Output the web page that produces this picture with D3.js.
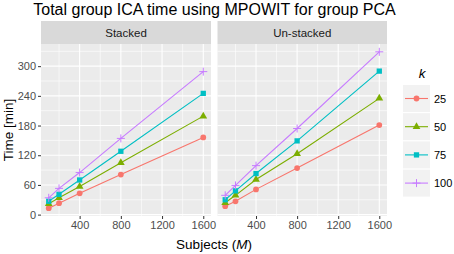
<!DOCTYPE html>
<html>
<head>
<meta charset="utf-8">
<script src="https://cdn.jsdelivr.net/npm/d3@7"></script>
<style>
  body { margin: 0; background: #fff; }
  text { font-family: "Liberation Sans", Arial, sans-serif; }
</style>
</head>
<body>
<div id="chart"></div>
<script>
// data
let subjects = [100, 200, 400, 800, 1600];
let panels = ["Stacked", "Un-stacked"];
let kLevels = ["25", "50", "75", "100"];
let stacked25 = [13, 23, 43, 81, 156];
let stacked50 = [22, 34, 57, 105, 199];
let stacked75 = [27, 41, 70, 128, 245];
let stacked100 = [34, 53, 85, 154, 289];
let unstacked25 = [17, 27, 51, 94, 181];
let unstacked50 = [24, 39, 71, 123, 235];
let unstacked75 = [30, 48, 83, 149, 290];
let unstacked100 = [39, 59, 99, 174, 329];
let xTicks = [400, 800, 1200, 1600];
let yTicks = [0, 60, 120, 180, 240, 300];

let colors = ["#F8766D", "#7CAE00", "#00BFC4", "#C77CFF"];

let series = {
  "Stacked": [stacked25, stacked50, stacked75, stacked100],
  "Un-stacked": [unstacked25, unstacked50, unstacked75, unstacked100]
};

let W = 454, H = 254;
let svg = d3.select("#chart").append("svg")
  .attr("width", W).attr("height", H);

// layout
let panelTop = 44, panelBottom = 216, stripTop = 21;
let panelX = [[41, 211], [217.5, 387]];

// scales (ggplot-like 5% expansion)
let allVals = [].concat(...Object.values(series).flat());
let yMin = d3.min(allVals), yMax = d3.max(allVals);
let yPad = (yMax - yMin) * 0.05;
let y = d3.scaleLinear()
  .domain([yMin - yPad, yMax + yPad])
  .range([panelBottom, panelTop]);

let xPad = (d3.max(subjects) - d3.min(subjects)) * 0.05;

// title
svg.append("text")
  .attr("x", 214.5).attr("y", 15)
  .attr("text-anchor", "middle")
  .style("font-size", "16px")
  .style("fill", "#000")
  .text("Total group ICA time using MPOWIT for group PCA");

let symbols = [d3.symbolCircle, d3.symbolTriangle, d3.symbolSquare, null];

function drawMarker(g, shapeIdx, cx, cy, color) {
  if (shapeIdx === 3) {
    g.append("path")
      .attr("d", `M${cx - 4},${cy}H${cx + 4}M${cx},${cy - 4}V${cy + 4}`)
      .attr("stroke", color).attr("stroke-width", 1).attr("fill", "none");
  } else {
    let size = shapeIdx === 0 ? 26 : shapeIdx === 1 ? 26 : 28;
    g.append("path")
      .attr("d", d3.symbol().type(symbols[shapeIdx]).size(size)())
      .attr("transform", `translate(${cx},${cy})`)
      .attr("fill", color);
  }
}

panels.forEach((name, p) => {
  let [x0, x1] = panelX[p];
  let x = d3.scaleLinear()
    .domain([d3.min(subjects) - xPad, d3.max(subjects) + xPad])
    .range([x0, x1]);

  let g = svg.append("g");

  // strip
  g.append("rect")
    .attr("x", x0).attr("y", stripTop)
    .attr("width", x1 - x0).attr("height", panelTop - stripTop)
    .attr("fill", "#d9d9d9");
  g.append("text")
    .attr("x", (x0 + x1) / 2).attr("y", stripTop + 15.5)
    .attr("text-anchor", "middle")
    .style("font-size", "11.5px")
    .style("fill", "#1a1a1a")
    .text(name);

  // panel background
  g.append("rect")
    .attr("x", x0).attr("y", panelTop)
    .attr("width", x1 - x0).attr("height", panelBottom - panelTop)
    .attr("fill", "#ebebeb");

  // minor grid
  let xMinor = [200, 600, 1000, 1400];
  let yMinor = [30, 90, 150, 210, 270, 330];
  xMinor.forEach(v => {
    g.append("line")
      .attr("x1", x(v)).attr("x2", x(v))
      .attr("y1", panelTop).attr("y2", panelBottom)
      .attr("stroke", "#fff").attr("stroke-width", 0.6);
  });
  yMinor.forEach(v => {
    g.append("line")
      .attr("x1", x0).attr("x2", x1)
      .attr("y1", y(v)).attr("y2", y(v))
      .attr("stroke", "#fff").attr("stroke-width", 0.6);
  });
  // major grid
  xTicks.forEach(v => {
    g.append("line")
      .attr("x1", x(v)).attr("x2", x(v))
      .attr("y1", panelTop).attr("y2", panelBottom)
      .attr("stroke", "#fff").attr("stroke-width", 1.1);
  });
  yTicks.forEach(v => {
    g.append("line")
      .attr("x1", x0).attr("x2", x1)
      .attr("y1", y(v)).attr("y2", y(v))
      .attr("stroke", "#fff").attr("stroke-width", 1.1);
  });

  // x axis
  let xAxis = g.append("g")
    .attr("transform", `translate(0,${panelBottom})`)
    .call(d3.axisBottom(x).tickValues(xTicks).tickFormat(d3.format("d"))
      .tickSize(3).tickPadding(2));
  xAxis.select(".domain").remove();
  xAxis.selectAll(".tick line").attr("stroke", "#333");
  xAxis.selectAll(".tick text")
    .style("font-size", "11px").style("fill", "#4d4d4d")
    .style("font-family", "Liberation Sans, Arial, sans-serif");

  // y axis only on first panel
  if (p === 0) {
    let yAxis = g.append("g")
      .attr("transform", `translate(${x0},0)`)
      .call(d3.axisLeft(y).tickValues(yTicks).tickSize(3).tickPadding(2));
    yAxis.select(".domain").remove();
    yAxis.selectAll(".tick line").attr("stroke", "#333");
    yAxis.selectAll(".tick text")
      .style("font-size", "11px").style("fill", "#4d4d4d")
      .style("font-family", "Liberation Sans, Arial, sans-serif");
  }

  // lines and points
  let line = d3.line()
    .x((d, i) => x(subjects[i]))
    .y(d => y(d));

  series[name].forEach((vals, k) => {
    g.append("path")
      .attr("d", line(vals))
      .attr("fill", "none")
      .attr("stroke", colors[k])
      .attr("stroke-width", 1.1);
    vals.forEach((v, i) => drawMarker(g, k, x(subjects[i]), y(v), colors[k]));
  });
});

// axis titles
svg.append("text")
  .attr("transform", `translate(13,${(panelTop + panelBottom) / 2}) rotate(-90)`)
  .attr("text-anchor", "middle")
  .style("font-size", "13.5px")
  .text("Time [min]");

let xt = svg.append("text")
  .attr("x", 214).attr("y", 249)
  .attr("text-anchor", "middle")
  .style("font-size", "13.5px");
xt.append("tspan").text("Subjects (");
xt.append("tspan").style("font-style", "italic").text("M");
xt.append("tspan").text(")");

// legend
let lg = svg.append("g");
lg.append("text")
  .attr("x", 422).attr("y", 78)
  .attr("text-anchor", "middle")
  .style("font-size", "13.5px")
  .style("font-style", "italic")
  .text("k");

let keyX = 403, keyW = 27, keyH = 27, keyTop = 85;
kLevels.forEach((lab, k) => {
  let ky = keyTop + k * (keyH + 1.2);
  lg.append("rect")
    .attr("x", keyX).attr("y", ky)
    .attr("width", keyW).attr("height", keyH)
    .attr("fill", "#f2f2f2");
  lg.append("line")
    .attr("x1", keyX + 2).attr("x2", keyX + keyW - 2)
    .attr("y1", ky + keyH / 2).attr("y2", ky + keyH / 2)
    .attr("stroke", colors[k]).attr("stroke-width", 1.1);
  drawMarker(lg, k, keyX + keyW / 2, ky + keyH / 2, colors[k]);
  lg.append("text")
    .attr("x", keyX + keyW + 4).attr("y", ky + keyH / 2 + 4)
    .style("font-size", "11px")
    .style("fill", "#000")
    .text(lab);
});
</script>
</body>
</html>
